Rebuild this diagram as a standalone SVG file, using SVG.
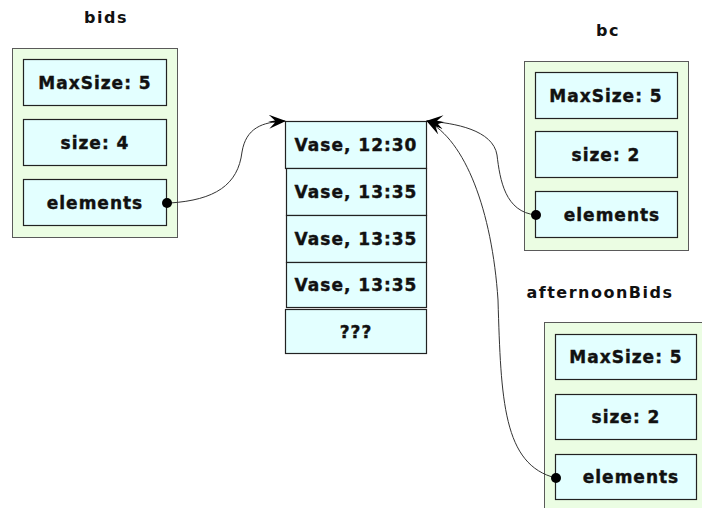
<svg xmlns="http://www.w3.org/2000/svg" width="702" height="508" viewBox="0 0 702 508">
<defs>
<style>
.outer{fill:#ebfde3;stroke:#5a5a5a;stroke-width:1}
.inner{fill:#e3ffff;stroke:#222;stroke-width:1.2}
.t{font-family:"DejaVu Sans",Verdana,sans-serif;font-weight:bold;font-size:17px;fill:#111;stroke:#111;stroke-width:0.4;text-anchor:middle;letter-spacing:1px}
.title{font-family:"DejaVu Sans",Verdana,sans-serif;font-weight:bold;font-size:16px;fill:#111;text-anchor:middle;letter-spacing:1.5px}
.conn{fill:none;stroke:#333;stroke-width:1}
.dot{fill:#000}
</style>
<marker id="arr" viewBox="0 0 18 14" refX="17" refY="7" markerWidth="18" markerHeight="14" markerUnits="userSpaceOnUse" orient="auto">
<path d="M18,7 L1,0 L7,6 L0,7 L7,8 L1,14 Z" fill="#000"/>
</marker>
</defs>
<rect width="702" height="508" fill="#fff"/>

<g id="bids">
<text class="title" x="106" y="23">bids</text>
<rect class="outer" x="12.5" y="48.5" width="165" height="189"/>
<rect class="inner" x="23.5" y="59.5" width="143" height="46"/>
<text class="t" x="95" y="89">MaxSize: 5</text>
<rect class="inner" x="23.5" y="119.5" width="143" height="46"/>
<text class="t" x="95" y="149">size: 4</text>
<rect class="inner" x="23.5" y="179.5" width="143" height="46"/>
<text class="t" x="95" y="209">elements</text>
</g>

<g id="array">
<rect class="inner" x="285.5" y="121.5" width="141" height="47"/>
<text class="t" x="356" y="151">Vase, 12:30</text>
<rect class="inner" x="286.5" y="168.5" width="140" height="47"/>
<text class="t" x="356" y="198">Vase, 13:35</text>
<rect class="inner" x="286.5" y="215.5" width="140" height="47"/>
<text class="t" x="356" y="245">Vase, 13:35</text>
<rect class="inner" x="286.5" y="262.5" width="140" height="45"/>
<text class="t" x="356" y="291">Vase, 13:35</text>
<rect class="inner" x="285.5" y="309.5" width="141" height="44"/>
<text class="t" x="356" y="338">???</text>
</g>

<g id="bc">
<text class="title" x="608" y="36">bc</text>
<rect class="outer" x="524.5" y="61.5" width="164" height="189"/>
<rect class="inner" x="535.5" y="72.5" width="142" height="46"/>
<text class="t" x="606" y="102">MaxSize: 5</text>
<rect class="inner" x="535.5" y="131.5" width="142" height="46"/>
<text class="t" x="606" y="161">size: 2</text>
<rect class="inner" x="535.5" y="191.5" width="142" height="46"/>
<text class="t" x="612" y="221">elements</text>
</g>

<g id="afternoonBids">
<text class="title" x="600" y="298">afternoonBids</text>
<rect class="outer" x="544.5" y="322.5" width="170" height="200"/>
<rect class="inner" x="555.5" y="334.5" width="141" height="45"/>
<text class="t" x="626" y="363">MaxSize: 5</text>
<rect class="inner" x="555.5" y="394.5" width="141" height="45"/>
<text class="t" x="626" y="423">size: 2</text>
<rect class="inner" x="555.5" y="454.5" width="141" height="45"/>
<text class="t" x="631" y="483">elements</text>
</g>

<g id="connectors">
<path class="conn" d="M170,203 C215,200 238,185 242,152 C246,128 262,122 285,121" marker-end="url(#arr)"/>
<path class="conn" d="M536,215 C505,212 500,180 497,155 C493,130 455,123 427,121" marker-end="url(#arr)"/>
<path class="conn" d="M556,478 C503,465 501,400 498,300 C492,210 465,140 427,121" marker-end="url(#arr)"/>
<circle class="dot" cx="167" cy="203" r="5"/>
<circle class="dot" cx="536" cy="215" r="5"/>
<circle class="dot" cx="556" cy="478" r="5"/>
</g>
</svg>
